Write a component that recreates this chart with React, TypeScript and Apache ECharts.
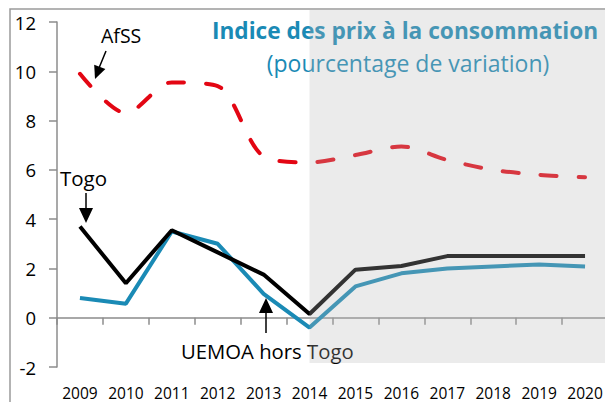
import React, { useEffect, useRef } from "react";
import * as echarts from "echarts";

const years = ["2009", "2010", "2011", "2012", "2013", "2014", "2015", "2016", "2017", "2018", "2019", "2020"];
const afss = [9.9, 8.3, 9.55, 9.4, 6.55, 6.3, 6.6, 6.95, 6.4, 6.0, 5.8, 5.7];
const togo = [3.7, 1.4, 3.55, 2.65, 1.75, 0.15, 1.95, 2.1, 2.5, 2.5, 2.5, 2.5];
const uemoa = [0.8, 0.57, 3.5, 3.0, 0.97, -0.4, 1.27, 1.8, 2.0, 2.08, 2.16, 2.08];
const yMin = -2;
const yMax = 12;
const yStep = 2;
const projectionStart = "2014";

const titleText = "Indice des prix à la consommation";
const subtitleText = "(pourcentage de variation)";
const FONT = "'Open Sans', 'Noto Sans', sans-serif";

export default function App() {
  const ref = useRef<HTMLDivElement>(null);
  useEffect(() => {
    if (!ref.current) return;
    const chart = echarts.init(ref.current, null, { renderer: "svg" });
    chart.setOption({
      animation: false,
      backgroundColor: "#ffffff",
      textStyle: { fontFamily: FONT },
      grid: { left: 57, top: 22, bottom: 35, right: -3, containLabel: false, outerBoundsMode: "none" },
      xAxis: {
        type: "category",
        data: years,
        boundaryGap: true,
        axisLine: { onZero: true, lineStyle: { color: "#8c8c8c", width: 1.5 } },
        axisTick: { show: true, interval: 0, length: 7, lineStyle: { color: "#8c8c8c", width: 1.5 } },
        axisLabel: { color: "#000", fontSize: 15.5, interval: 0, margin: 18, fontFamily: FONT, hideOverlap: false },
        splitLine: { show: false },
      },
      yAxis: {
        type: "value",
        min: yMin,
        max: yMax,
        interval: yStep,
        axisLine: { show: true, lineStyle: { color: "#8c8c8c", width: 1.5 } },
        axisTick: { show: true, length: 8, lineStyle: { color: "#8c8c8c", width: 1.5 } },
        axisLabel: { color: "#000", fontSize: 18.5, margin: 21, fontFamily: FONT },
        splitLine: { show: false },
      },
      series: [
        {
          name: "AfSS",
          type: "line",
          data: afss,
          smooth: 0.3,
          symbol: "none",
          lineStyle: { color: "#e30613", width: 4, type: [16, 22], cap: "round" },
          z: 2,
        },
        {
          name: "UEMOA hors Togo",
          type: "line",
          data: uemoa,
          symbol: "none",
          lineStyle: { color: "#1a8ab5", width: 4 },
          z: 3,
        },
        {
          name: "Togo",
          type: "line",
          data: togo,
          symbol: "none",
          lineStyle: { color: "#000000", width: 4 },
          z: 4,
        },
      ],
    });

    const x0 = chart.convertToPixel({ xAxisIndex: 0 }, projectionStart) as number;

    chart.setOption({
      graphic: [
        {
          type: "rect",
          z: 1,
          shape: { x: 10, y: 9, width: 700, height: 600 },
          style: { fill: "none", stroke: "#9a9a9a", lineWidth: 1.5 },
        },
        {
          type: "text",
          z: 50,
          x: 405,
          y: 30,
          style: {
            text: titleText,
            fontFamily: FONT,
            fontWeight: "bold",
            fontSize: 22.7,
            fill: "#1a8ab5",
            align: "center",
            verticalAlign: "middle",
          },
        },
        {
          type: "text",
          z: 50,
          x: 408,
          y: 63,
          style: {
            text: subtitleText,
            fontFamily: FONT,
            fontSize: 23,
            fill: "#1a8ab5",
            align: "center",
            verticalAlign: "middle",
          },
        },
        {
          type: "text",
          z: 50,
          x: 101,
          y: 35,
          style: { text: "AfSS", fontFamily: FONT, fontSize: 19.5, fill: "#000", align: "left", verticalAlign: "middle" },
        },
        {
          type: "line",
          z: 50,
          shape: { x1: 106, y1: 51, x2: 99, y2: 68 },
          style: { stroke: "#000", lineWidth: 1.5 },
        },
        {
          type: "polygon",
          z: 50,
          shape: { points: [[95, 79], [105.4, 69.1], [94.2, 64.7]] },
          style: { fill: "#000" },
        },
        {
          type: "text",
          z: 50,
          x: 60,
          y: 178,
          style: { text: "Togo", fontFamily: FONT, fontSize: 20.5, fill: "#000", align: "left", verticalAlign: "middle" },
        },
        {
          type: "line",
          z: 50,
          shape: { x1: 86, y1: 193, x2: 86, y2: 210 },
          style: { stroke: "#000", lineWidth: 1.5 },
        },
        {
          type: "polygon",
          z: 50,
          shape: { points: [[86, 223], [79, 208], [93, 208]] },
          style: { fill: "#000" },
        },
        {
          type: "text",
          z: 50,
          x: 181,
          y: 351,
          style: { text: "UEMOA hors Togo", fontFamily: FONT, fontSize: 20.3, fill: "#000", align: "left", verticalAlign: "middle" },
        },
        {
          type: "line",
          z: 50,
          shape: { x1: 266, y1: 333, x2: 266, y2: 310 },
          style: { stroke: "#000", lineWidth: 1.5 },
        },
        {
          type: "polygon",
          z: 50,
          shape: { points: [[266, 298], [259, 313], [273, 313]] },
          style: { fill: "#000" },
        },
        {
          type: "rect",
          z: 100,
          shape: { x: x0, y: 10, width: 700, height: 353 },
          style: { fill: "rgba(182,182,182,0.28)" },
        },
      ],
    });

    return () => chart.dispose();
  }, []);
  return (
    <div
      ref={ref}
      style={{ position: "absolute", left: 0, top: 0, width: 605, height: 402 }}
    />
  );
}
